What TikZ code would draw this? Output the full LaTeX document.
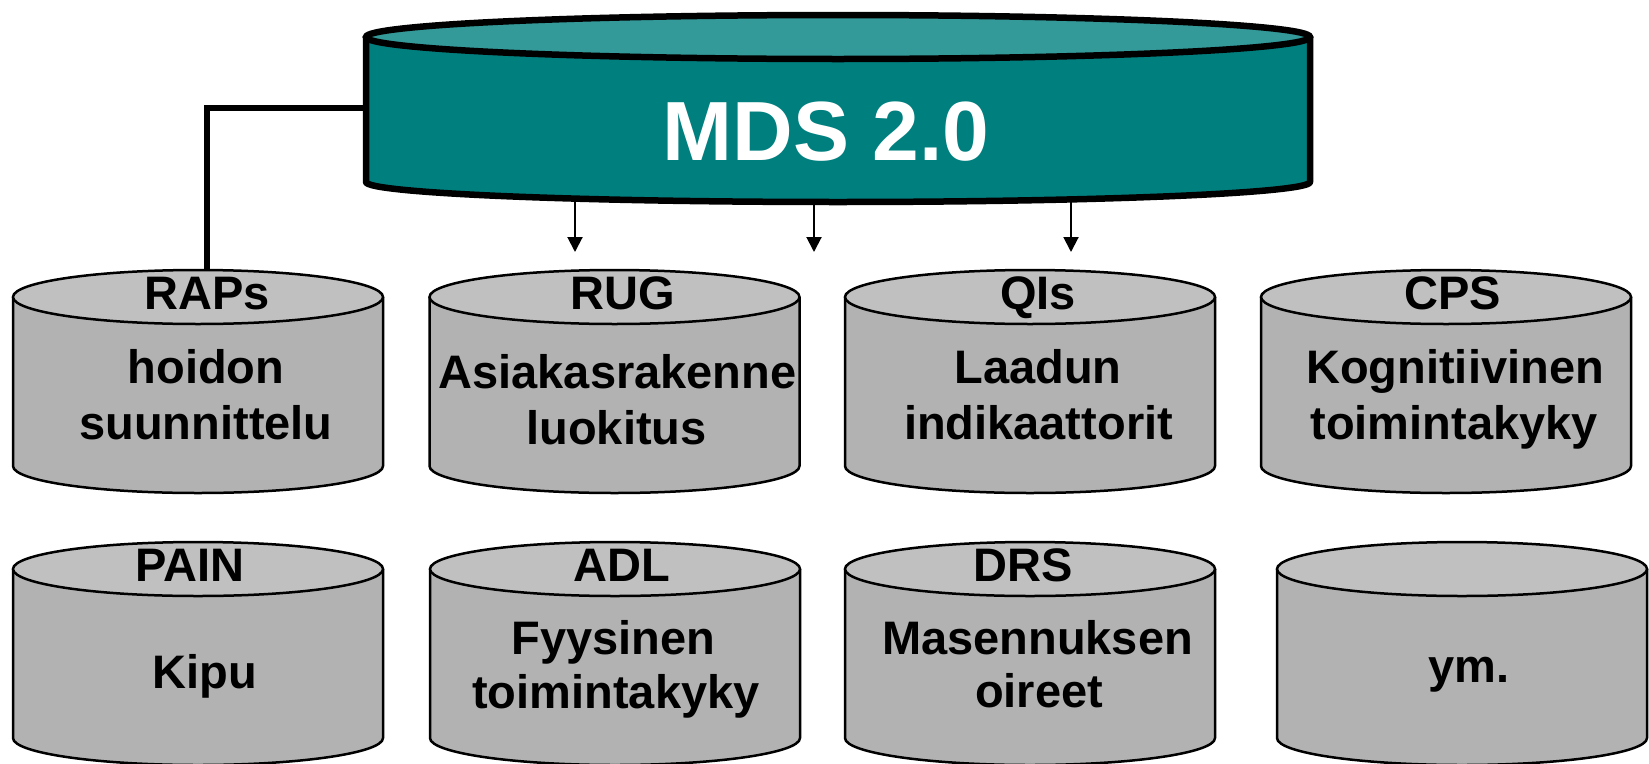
\documentclass[tikz,border=0pt]{standalone}
\usepackage{fontspec}
\setmainfont{Liberation Sans}
\usetikzlibrary{arrows.meta}
\definecolor{tealbody}{RGB}{0,127,127}
\definecolor{tealtop}{RGB}{51,153,153}
\definecolor{graybody}{RGB}{178,178,178}
\definecolor{graytop}{RGB}{192,192,192}
\newcommand{\smallcyl}[4]{% name, cx, ytop, ybot
  \fill[graybody] ({#2-185},#3) -- ({#2-185},#4) arc[start angle=180,end angle=0,x radius=185,y radius=27] -- ({#2+185},#3) -- cycle;
  \draw[cylline] ({#2-185},#3) -- ({#2-185},#4) arc[start angle=180,end angle=0,x radius=185,y radius=27] -- ({#2+185},#3);
  \path[cyltop] (#2,#3) ellipse[x radius=185,y radius=27];
  \coordinate (#1) at (#2,#3);
}
\begin{document}
\begin{tikzpicture}[x=1pt,y=-1pt,
  cylline/.style={draw=black,line width=2.5pt,line join=round},
  cyltop/.style={fill=graytop,draw=black,line width=2.5pt},
  lbl/.style={font=\bfseries\fontsize{47}{47}\selectfont,inner sep=0pt,anchor=base},
  conn/.style={line width=6pt},
  arr/.style={line width=2pt,-{Triangle[length=15pt,width=15pt]}}]
\useasboundingbox (0,0) rectangle (1649,763);
\fill[white] (0,0) rectangle (1649,763);

% MDS cylinder
\fill[tealbody] (366,37) -- (366,182) arc[start angle=180,end angle=0,x radius=472,y radius=20] -- (1310,37) -- cycle;
\draw[line width=6.5pt,line join=round] (366,37) -- (366,182) arc[start angle=180,end angle=0,x radius=472,y radius=20] -- (1310,37);
\path[fill=tealtop,draw=black,line width=6.5pt] (838,37) ellipse[x radius=472,y radius=22];
\node[font=\bfseries\fontsize{84}{84}\selectfont,text=white,inner sep=0pt,anchor=base] (mds) at (826,160) {MDS 2.0};

% row 1 cylinders
\smallcyl{raps}{198}{297}{466}
\smallcyl{rug}{614.5}{297}{466}
\smallcyl{qis}{1030}{297}{466}
\smallcyl{cps}{1446}{297}{466}
% row 2 cylinders
\smallcyl{pain}{198}{569}{738}
\smallcyl{adl}{615}{569}{738}
\smallcyl{drs}{1030}{569}{738}
\smallcyl{ym}{1462}{569}{738}

% connectors
\coordinate (mdsW) at (366,108);
\coordinate (rapsIn) at (207,270);
\draw[conn] (mdsW) -| (rapsIn);
\coordinate (a1s) at (575,202);
\coordinate (a1e) at (575,252);
\coordinate (a2s) at (814,205);
\coordinate (a2e) at (814,252);
\coordinate (a3s) at (1071,202);
\coordinate (a3e) at (1071,252);
\draw[arr] (a1s) -- (a1e);
\draw[arr] (a2s) -- (a2e);
\draw[arr] (a3s) -- (a3e);

% row 1 texts
\node[lbl] (rapsT) at (207,309) {RAPs};
\node[lbl] (rapsA) at (206,383) {hoidon};
\node[lbl] (rapsB) at (206,439) {suunnittelu};
\node[lbl] (rugT) at (622.7,309) {RUG};
\node[lbl] (rugA) at (617.5,388) {Asiakasrakenne};
\node[lbl] (rugB) at (616.5,444) {luokitus};
\node[lbl] (qisT) at (1038,309) {QIs};
\node[lbl] (qisA) at (1038,383) {Laadun};
\node[lbl] (qisB) at (1038.5,439) {indikaattorit};
\node[lbl] (cpsT) at (1453,309) {CPS};
\node[lbl] (cpsA) at (1455,383) {Kognitiivinen};
\node[lbl] (cpsB) at (1454,439) {toimintakyky};

% row 2 texts
\node[lbl] (painT) at (190,581) {PAIN};
\node[lbl] (painA) at (205,688) {Kipu};
\node[lbl] (adlT) at (621.5,581) {ADL};
\node[lbl] (adlA) at (613.5,654) {Fyysinen};
\node[lbl] (adlB) at (616,708) {toimintakyky};
\node[lbl] (drsT) at (1023,581) {DRS};
\node[lbl] (drsA) at (1037.5,654) {Masennuksen};
\node[lbl] (drsB) at (1039,707) {oireet};
\node[lbl] (ymA) at (1469,682) {ym.};
\end{tikzpicture}
\end{document}
